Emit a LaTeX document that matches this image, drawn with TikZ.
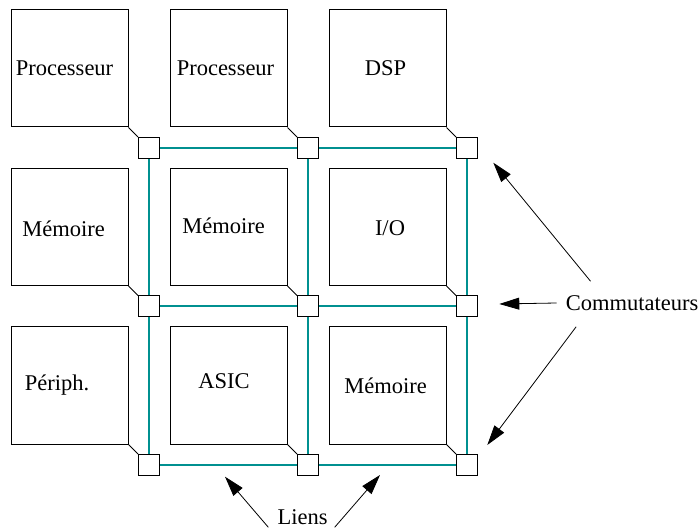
\documentclass[tikz,border=0pt]{standalone}
\usepackage{fontspec}
\setmainfont{Liberation Serif}
\usepackage{xcolor}
\usepackage{tikz}
\usetikzlibrary{arrows.meta,positioning,calc}
\definecolor{linkteal}{RGB}{0,144,144}

\begin{document}
\begin{tikzpicture}[
    x=1pt, y=-1pt,
    module/.style={rectangle, draw=black, line width=1pt, minimum size=117pt, inner sep=0pt},
    switch/.style={rectangle, draw=black, line width=1pt, fill=white, minimum size=21pt, inner sep=0pt},
    tag/.style={font=\rmfamily\fontsize{22.5}{26}\selectfont, inner sep=4pt},
    link/.style={draw=linkteal, line width=2pt},
    tap/.style={draw=black, line width=0.8pt},
    pointer/.style={-{Triangle[length=20pt, width=12pt]}, line width=0.8pt, draw=black}
]
    \useasboundingbox (0,0) rectangle (699,529);

    % commutateurs
    \foreach \c in {1,2,3}
        \foreach \r in {1,2,3}
            \node [switch] (sw\c\r) at ({149+159*(\c-1)}, {148+158.5*(\r-1)}) {};

    % blocs
    \node [module, label={[tag, xshift=-5pt]center:Processeur}] (proc1) at ($(sw11)+(-79.5,-79.5)$) {};
    \node [module, label={[tag, xshift=-3pt]center:Processeur}] (proc2) at ($(sw21)+(-79.5,-79.5)$) {};
    \node [module, label={[tag, xshift=-2pt]center:DSP}] (dsp) at ($(sw31)+(-79.5,-79.5)$) {};
    \node [module, label={[tag, xshift=-6pt, yshift=-1.5pt]center:Mémoire}] (mem1) at ($(sw12)+(-79.5,-79.5)$) {};
    \node [module, label={[tag, xshift=-5pt, yshift=1.5pt]center:Mémoire}] (mem2) at ($(sw22)+(-79.5,-79.5)$) {};
    \node [module, label={[tag, xshift=2.5pt, yshift=-1.5pt]center:I/O}] (io) at ($(sw32)+(-79.5,-79.5)$) {};
    \node [module, label={[tag, xshift=-12.5pt]center:Périph.}] (periph) at ($(sw13)+(-79.5,-79.5)$) {};
    \node [module, label={[tag, xshift=-4.5pt, yshift=4pt]center:ASIC}] (asic) at ($(sw23)+(-79.5,-79.5)$) {};
    \node [module, label={[tag, xshift=-2pt]center:Mémoire}] (mem3) at ($(sw33)+(-79.5,-79.5)$) {};

    % raccords bloc -> commutateur
    \draw [tap] (proc1.south east) -- (sw11.north west);
    \draw [tap] (proc2.south east) -- (sw21.north west);
    \draw [tap] (dsp.south east) -- (sw31.north west);
    \draw [tap] (mem1.south east) -- (sw12.north west);
    \draw [tap] (mem2.south east) -- (sw22.north west);
    \draw [tap] (io.south east) -- (sw32.north west);
    \draw [tap] (periph.south east) -- (sw13.north west);
    \draw [tap] (asic.south east) -- (sw23.north west);
    \draw [tap] (mem3.south east) -- (sw33.north west);

    % liens
    \foreach \r in {1,2,3} {
        \draw [link] (sw1\r) -- (sw2\r);
        \draw [link] (sw2\r) -- (sw3\r);
        \draw [link] (sw\r1) -- (sw\r2);
        \draw [link] (sw\r2) -- (sw\r3);
    }

    % legendes
    \node [tag] (commut) at (632,303) {Commutateurs};
    \node [tag] (liens) at (302.5,517.5) {Liens};

    \coordinate (tipTop) at (493.3,162.7);
    \coordinate (tipMid) at (499.3,304);
    \coordinate (tipLow) at (487.3,445);
    \coordinate (tipLeft) at (225,476.7);
    \coordinate (tipRight) at (380,475);

    \draw [pointer] ([xshift=29pt, yshift=10pt]commut.north west) -- (tipTop);
    \draw [pointer] ([xshift=-5pt]commut.west) -- (tipMid);
    \draw [pointer] ([xshift=14.6pt, yshift=-12pt]commut.south west) -- (tipLow);
    \draw [pointer] ([xshift=-5pt, yshift=2pt]liens.south west) -- (tipLeft);
    \draw [pointer] ([xshift=3pt, yshift=2pt]liens.south east) -- (tipRight);
\end{tikzpicture}
\end{document}
